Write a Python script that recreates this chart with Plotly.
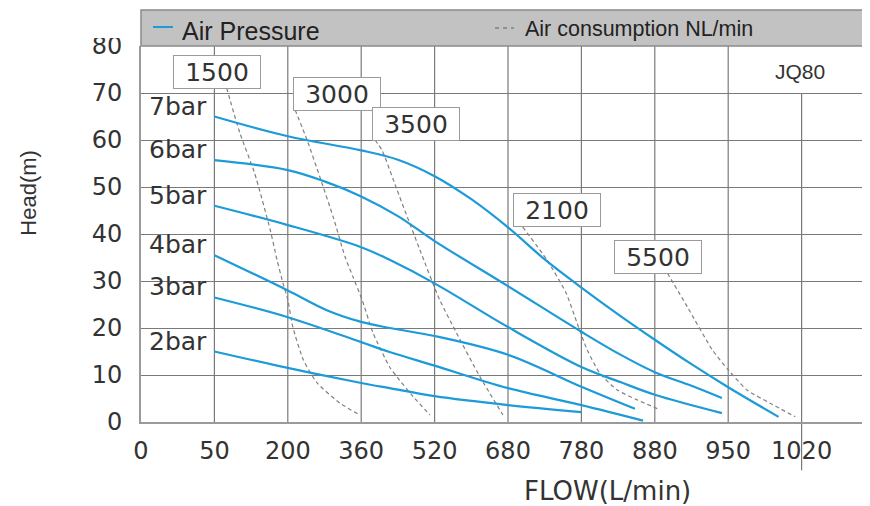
import numpy as np
import plotly.graph_objects as go

# Flow axis is not linear: the grid is evenly spaced at these flows (L/min)
flow_ticks = [0, 50, 200, 360, 520, 680, 780, 880, 950, 1020]
head_ticks = [0, 10, 20, 30, 40, 50, 60, 70, 80]

# --- Air pressure curves (flow L/min -> head m) ---
p7_flow = [50, 200, 360, 440, 520, 600, 680, 730, 780, 830, 880, 915, 950, 998]
p7_head = [65, 60.8, 57.8, 55.8, 52.3, 47.4, 41.4, 34.6, 28.6, 22.9, 17.5, 12.3, 7.4, 1.1]

p6_flow = [50, 200, 280, 360, 440, 520, 680, 780, 830, 880, 915, 944]
p6_head = [55.7, 53.6, 51.2, 48, 43.8, 38.5, 28.9, 19.2, 14.6, 10.6, 7.7, 5.1]

p5_flow = [50, 200, 360, 422, 520, 680, 780, 833, 880, 944]
p5_head = [46, 41.9, 37.2, 34.5, 29.5, 20.2, 11.7, 8.5, 5.8, 1.9]

p4_flow = [50, 200, 285, 360, 422, 520, 680, 780, 853]
p4_head = [35.5, 28, 23.8, 21.3, 20, 18.3, 14.3, 7.5, 2.8]

p3_flow = [50, 200, 360, 422, 520, 680, 780, 864]
p3_head = [26.5, 22.3, 17, 14.9, 12, 7.2, 3.6, 0.3]

p2_flow = [50, 200, 360, 422, 520, 680, 780]
p2_head = [15, 11.5, 8.3, 7.2, 5.5, 3.6, 2.1]

pressure_labels = ["7bar", "6bar", "5bar", "4bar", "3bar", "2bar"]

# --- Air consumption curves (NL/min) ---
a1500_flow = [75, 102, 132, 164, 178, 190, 200, 211, 234, 264, 314, 357]
a1500_head = [71.1, 61.5, 53, 40.9, 34.5, 29.6, 26, 20.2, 13.2, 8.3, 4, 1.5]

a3000_flow = [216, 242, 270, 299, 325, 342, 362, 386, 422, 438, 474, 510]
a3000_head = [66.4, 60, 52.1, 43.6, 35.1, 30.9, 26, 18.9, 11.7, 9.6, 5.3, 1.5]

a3500_flow = [390, 405, 438, 488, 531, 568, 619, 669]
a3500_head = [60, 57.9, 49.4, 36.6, 26, 18.9, 9.6, 1.5]

a2100_flow = [700, 733, 759, 774, 788, 805, 829, 856, 885]
a2100_head = [41.5, 34.5, 27.5, 21.1, 15.3, 10.4, 6.8, 4.7, 2.6]

a5500_flow = [892, 911, 935, 950, 968, 990, 1014]
a5500_head = [31.7, 24.5, 15.3, 11.1, 6.8, 4.0, 1.1]

air_labels = ["1500", "3000", "3500", "2100", "5500"]


def to_axis(flow):
    # place a flow value on the evenly spaced grid
    return np.interp(flow, flow_ticks, np.arange(len(flow_ticks)))


BLUE = "#1c9bd8"
GRID = "#7a7a7a"
TXT = "#333333"

pressure = [(p7_flow, p7_head), (p6_flow, p6_head), (p5_flow, p5_head),
            (p4_flow, p4_head), (p3_flow, p3_head), (p2_flow, p2_head)]
air = [(a1500_flow, a1500_head), (a3000_flow, a3000_head), (a3500_flow, a3500_head),
       (a2100_flow, a2100_head), (a5500_flow, a5500_head)]

fig = go.Figure()

for fl, hd in air:
    fig.add_trace(go.Scatter(
        x=to_axis(fl), y=hd, mode="lines", showlegend=False, hoverinfo="skip",
        line=dict(color="#808080", width=1.2, dash="4px,3px", shape="spline", smoothing=0.6)
    ))

for fl, hd in pressure:
    fig.add_trace(go.Scatter(
        x=to_axis(fl), y=hd, mode="lines", showlegend=False,
        line=dict(color=BLUE, width=2.2, shape="spline", smoothing=1.0)
    ))

annotations = []
# pressure labels at the start of each curve
for lab, (fl, hd) in zip(pressure_labels, pressure):
    annotations.append(dict(
        x=0.008, xref="paper", y=hd[0], yref="y", text=lab, showarrow=False,
        xanchor="left", yanchor="bottom", yshift=-6,
        font=dict(family="DejaVu Sans", size=25, color=TXT)
    ))

# boxed air consumption labels (box positions, flow/head)
air_box_pos = [(56, 74.5), (307, 69.8), (480, 63.4), (747, 45.1), (883, 35.1)]
for lab, (bx, by) in zip(air_labels, air_box_pos):
    annotations.append(dict(
        x=to_axis(bx), y=by, text=lab, showarrow=False,
        xanchor="center", yanchor="middle", width=82, height=28,
        bgcolor="white", bordercolor="#9a9a9a", borderwidth=1, borderpad=2,
        font=dict(family="DejaVu Sans", size=25, color=TXT)
    ))

annotations += [
    dict(x=0.0536, y=1.04, xref="paper", yref="paper", text="Air Pressure", showarrow=False,
         xanchor="left", yanchor="middle",
         font=dict(family="Liberation Sans", size=25, color="#222")),
    dict(x=0.526, y=1.046, xref="paper", yref="paper", text="Air consumption NL/min",
         showarrow=False, xanchor="left", yanchor="middle",
         font=dict(family="Liberation Sans", size=21.5, color="#222")),
    dict(x=0.906, y=0.931, xref="paper", yref="paper", text="JQ80", showarrow=False,
         xanchor="center", yanchor="middle",
         font=dict(family="Liberation Sans", size=21, color=TXT)),
    dict(x=0.641, y=-0.1835, xref="paper", yref="paper", text="FLOW(L/min)", showarrow=False,
         xanchor="center", yanchor="middle",
         font=dict(family="DejaVu Sans", size=26, color=TXT)),
    dict(x=-0.154, y=0.61, xref="paper", yref="paper", text="Head(m)", showarrow=False,
         textangle=-90, xanchor="center", yanchor="middle",
         font=dict(family="Liberation Sans", size=22, color=TXT)),
]

shapes = []
# vertical grid lines on the flow ticks (the 1020 one starts below 70 and runs under the axis)
for i in range(1, len(flow_ticks)):
    if flow_ticks[i] == 1020:
        shapes.append(dict(type="line", xref="x", yref="paper", x0=i, x1=i,
                           y0=-0.128, y1=0.875, line=dict(color=GRID, width=1.2), layer="below"))
    else:
        shapes.append(dict(type="line", xref="x", yref="paper", x0=i, x1=i,
                           y0=0, y1=1, line=dict(color=GRID, width=1.2), layer="below"))

# grey legend header above the plot
shapes.append(dict(type="rect", xref="paper", yref="paper", x0=0, x1=1.01, y0=1, y1=1.0957,
                   fillcolor="#c2c2c2", line=dict(color="#8a8a8a", width=1.5), layer="above"))
shapes.append(dict(type="line", xref="paper", yref="paper", x0=0.0165, x1=0.044, y0=1.0505, y1=1.0505,
                   line=dict(color=BLUE, width=2), layer="above"))
shapes.append(dict(type="line", xref="paper", yref="paper", x0=0.487, x1=0.513, y0=1.048, y1=1.048,
                   line=dict(color="#808080", width=1.5, dash="4px,4px"), layer="above"))
# top of the "80" label is cut off in the original
shapes.append(dict(type="rect", xref="paper", yref="paper", x0=-0.12, x1=-0.01, y0=1.021, y1=1.2,
                   fillcolor="white", line=dict(width=0), layer="above"))

# page body has an 8px margin, so the figure is 8px smaller and shifted
fig.update_layout(
    width=862, height=498,
    margin=dict(l=133, r=2, t=38, b=84),
    plot_bgcolor="white", paper_bgcolor="white",
    showlegend=False,
    annotations=annotations,
    shapes=shapes,
    xaxis=dict(
        range=[0, 727 / 73.4], tickvals=list(range(len(flow_ticks))),
        ticktext=[str(v) for v in flow_ticks], showgrid=False, zeroline=False,
        showline=True, linecolor="#9a9a9a", linewidth=2,
        ticks="outside", ticklen=6, tickcolor="rgba(0,0,0,0)",
        tickfont=dict(family="DejaVu Sans", size=24, color=TXT)
    ),
    yaxis=dict(
        range=[0, 80], tickvals=head_ticks, showgrid=True, gridcolor=GRID, gridwidth=1.2,
        zeroline=False, showline=True, linecolor="#9a9a9a", linewidth=2,
        ticks="outside", ticklen=12, tickcolor="rgba(0,0,0,0)",
        tickfont=dict(family="DejaVu Sans", size=24, color=TXT)
    ),
)

fig.write_html("out.html")
